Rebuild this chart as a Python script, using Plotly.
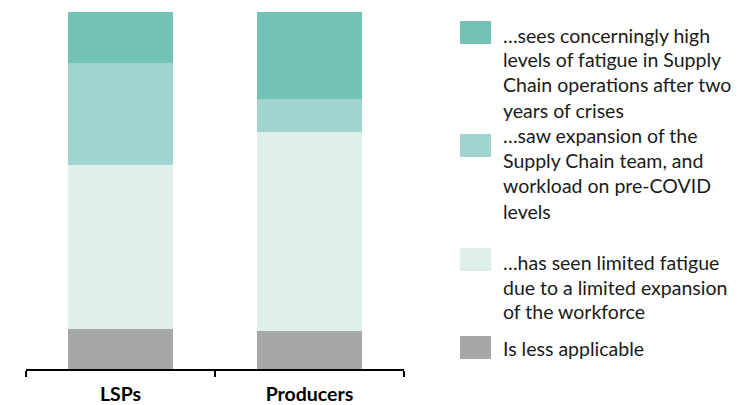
import plotly.graph_objects as go

# Survey shares (% of respondents) per group
categories = ["LSPs", "Producers"]
series_names = [
    "Is less applicable",
    "…has seen limited fatigue due to a limited expansion of the workforce",
    "…saw expansion of the Supply Chain team, and workload on pre-COVID levels",
    "…sees concerningly high levels of fatigue in Supply Chain operations after two years of crises",
]
less_applicable = [11.1, 10.7]
limited_fatigue = [46.0, 55.8]
saw_expansion = [28.6, 9.0]
high_fatigue = [14.3, 24.5]

legend_lines = {
    "…sees concerningly high levels of fatigue in Supply Chain operations after two years of crises":
        ["…sees concerningly high", "levels of fatigue in Supply", "Chain operations after two", "years of crises"],
    "…saw expansion of the Supply Chain team, and workload on pre-COVID levels":
        ["…saw expansion of the", "Supply Chain team, and", "workload on pre-COVID", "levels"],
    "…has seen limited fatigue due to a limited expansion of the workforce":
        ["…has seen limited fatigue", "due to a limited expansion", "of the workforce"],
    "Is less applicable": ["Is less applicable"],
}

colors = ["#A6A7A9", "#DFEFEA", "#A0D5CF", "#72C3B5"]
values = [less_applicable, limited_fatigue, saw_expansion, high_fatigue]

W, H = 738, 405
L, R, T, B = 26, 738 - 404, 12, 405 - 369
FONT = "Lato, 'Open Sans', sans-serif"

fig = go.Figure()
for name, vals, col in zip(series_names, values, colors):
    fig.add_trace(go.Bar(x=categories, y=vals, name=name, marker_color=col,
                         marker_line_width=0, showlegend=False))

# Pixel -> paper coordinate helpers for the custom legend
pw, ph = W - L - R, H - T - B
px = lambda x: (x - L) / pw
py = lambda y: 1 - (y - T) / ph

shapes, annotations = [], []
# legend item order top to bottom, with swatch top pixel and text line centres
legend_items = [
    (series_names[3], colors[3], 21, [35, 60, 85, 110]),
    (series_names[2], colors[2], 134, [135, 160, 185, 211]),
    (series_names[1], colors[1], 248, [262, 287, 311]),
    (series_names[0], colors[0], 336, [348]),
]
for name, col, top, line_ys in legend_items:
    shapes.append(dict(type="rect", xref="paper", yref="paper",
                       x0=px(460), x1=px(491), y0=py(top + 23), y1=py(top),
                       fillcolor=col, line_width=0))
    for text, ly in zip(legend_lines[name], line_ys):
        annotations.append(dict(xref="paper", yref="paper", x=px(501), y=py(ly),
                                xanchor="left", yanchor="middle", text=text,
                                showarrow=False,
                                font=dict(family=FONT, size=19.5, color="#1a1a1a")))

fig.update_layout(
    width=W, height=H,
    barmode="stack", bargap=0.445,
    margin=dict(l=L, r=R, t=T, b=B, autoexpand=False),
    plot_bgcolor="white", paper_bgcolor="white",
    shapes=shapes, annotations=annotations,
    xaxis=dict(showline=True, linecolor="black", linewidth=1.5,
               ticks="outside", tickson="boundaries", ticklen=6,
               tickcolor="black", tickwidth=1.5, ticklabelstandoff=7,
               automargin=False,
               tickfont=dict(family=FONT, size=19.5, color="black", weight="bold"),
               showgrid=False, zeroline=False),
    yaxis=dict(range=[0, 100], visible=False, showgrid=False, automargin=False),
)

fig.write_html("out.html")
